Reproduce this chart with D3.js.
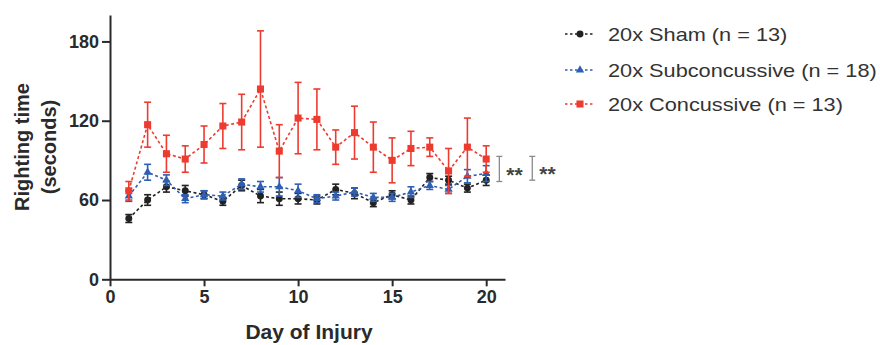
<!DOCTYPE html>
<html><head><meta charset="utf-8">
<script src="https://cdn.jsdelivr.net/npm/d3@7"></script>
<style>body{margin:0;background:#fff;} svg{display:block;}</style>
</head><body>
<svg id="c" width="880" height="345"></svg>
<script>
const days = [1,2,3,4,5,6,7,8,9,10,11,12,13,14,15,16,17,18,19,20];
const shamMean = [46,60,70,67,64,59,71,63,61,61,60,68,65,58,64,60,77,75,69,75];
const shamErr  = [3,4,4,4,3,3,4,5,5,4,3,4,4,3,3,3,3,3,3,4];
const subMean  = [63,81,75,61,64,63,72,70,70,67,61,63,66,62,62,66,71,68,78,80];
const subErr   = [4,6,4,3,3,3,4,4,7,5,3,3,3,3,3,4,3,3,5,6];
const conMean  = [67,117,95,91,102,116,119,144,97,122,121,100,111,100,90,99,100,82,100,91];
const conErr   = [7,17,14,10,14,17,21,44,20,27,23,13,20,19,17,13,7,17,22,10];
const xTicks = [0,5,10,15,20];
const yTicks = [0,60,120,180];
const seriesNames = ["20x Sham (n = 13)","20x Subconcussive (n = 18)","20x Concussive (n = 13)"];
const seriesColors = ["#222222","#2f5fb3","#ee3b2f"];
const sigBrackets = [{day:20.7, lo:74, hi:93, label:"**"},{day:22.45, lo:75, hi:93, label:"**"}];

const svg = d3.select("#c");
const x = d3.scaleLinear().domain([0,21]).range([110,505]);
const y = d3.scaleLinear().domain([0,200]).range([279.3,15]);
const font = "'Liberation Sans', Arial, Helvetica, sans-serif";
const axisColor = "#2a2a2a";

// axes
const gx = svg.append("g").attr("transform",`translate(0,${y(0)})`)
  .call(d3.axisBottom(x).tickValues(xTicks).tickSize(7).tickPadding(4).tickSizeOuter(0));
const gy = svg.append("g").attr("transform",`translate(${x(0)},0)`)
  .call(d3.axisLeft(y).tickValues(yTicks).tickSize(8).tickPadding(3).tickSizeOuter(0));
[gx,gy].forEach(g=>{
  g.select(".domain").attr("stroke",axisColor).attr("stroke-width",2);
  g.selectAll(".tick line").attr("stroke",axisColor).attr("stroke-width",2);
  g.selectAll(".tick text").attr("fill","#2a2a2a").style("font-family",font)
    .style("font-size","18px").style("font-weight","bold");
});

// axis titles
svg.append("text").attr("x",309).attr("y",339).attr("text-anchor","middle")
  .style("font-family",font).style("font-size","21px").style("font-weight","bold").attr("fill","#2a2a2a")
  .text("Day of Injury");
const yt = svg.append("text").attr("transform","translate(29,147) rotate(-90)").attr("text-anchor","middle")
  .style("font-family",font).style("font-size","20px").style("font-weight","bold").attr("fill","#2a2a2a");
yt.append("tspan").attr("x",0).attr("y",0).text("Righting time");
yt.append("tspan").attr("x",0).attr("y",27).text("(seconds)");

const series = [
  {mean:shamMean, err:shamErr, color:seriesColors[0], shape:"circle"},
  {mean:subMean, err:subErr, color:seriesColors[1], shape:"triangle"},
  {mean:conMean, err:conErr, color:seriesColors[2], shape:"square"}
];
const symFor = s => s==="circle" ? d3.symbol(d3.symbolCircle,38) :
                    s==="triangle" ? d3.symbol(d3.symbolTriangle,30) : d3.symbol(d3.symbolSquare,50);

series.forEach(s=>{
  const g = svg.append("g");
  const data = days.map((d,i)=>({d, m:s.mean[i], e:s.err[i]}));
  g.append("path").datum(data)
    .attr("d", d3.line().x(p=>x(p.d)).y(p=>y(p.m)))
    .attr("fill","none").attr("stroke",s.color).attr("stroke-width",1.6).attr("stroke-dasharray","3,2.5");
  const eb = g.selectAll(".eb").data(data).enter().append("g").attr("stroke",s.color).attr("stroke-width",1.6);
  eb.append("line").attr("x1",p=>x(p.d)).attr("x2",p=>x(p.d)).attr("y1",p=>y(p.m-p.e)).attr("y2",p=>y(p.m+p.e));
  eb.append("line").attr("x1",p=>x(p.d)-3.5).attr("x2",p=>x(p.d)+3.5).attr("y1",p=>y(p.m+p.e)).attr("y2",p=>y(p.m+p.e));
  eb.append("line").attr("x1",p=>x(p.d)-3.5).attr("x2",p=>x(p.d)+3.5).attr("y1",p=>y(p.m-p.e)).attr("y2",p=>y(p.m-p.e));
  g.selectAll(".pt").data(data).enter().append("path")
    .attr("transform",p=>`translate(${x(p.d)},${y(p.m)})`)
    .attr("d",symFor(s.shape)()).attr("fill",s.color);
});

// significance brackets
sigBrackets.forEach(b=>{
  const g = svg.append("g").attr("stroke","#8a8a8a").attr("stroke-width",1.3);
  const bx = x(b.day);
  g.append("line").attr("x1",bx).attr("x2",bx).attr("y1",y(b.lo)).attr("y2",y(b.hi));
  g.append("line").attr("x1",bx-3).attr("x2",bx+3).attr("y1",y(b.lo)).attr("y2",y(b.lo));
  g.append("line").attr("x1",bx-3).attr("x2",bx+3).attr("y1",y(b.hi)).attr("y2",y(b.hi));
  svg.append("text").attr("x",bx+7).attr("y",y((b.lo+b.hi)/2)+13)
    .style("font-family",font).style("font-size","21px").style("font-weight","bold").attr("fill","#444")
    .text(b.label);
});

// legend
const legY = [34,70,104];
seriesNames.forEach((name,i)=>{
  const s = series[i];
  const g = svg.append("g").attr("transform",`translate(0,${legY[i]})`);
  g.append("line").attr("x1",565).attr("x2",595).attr("y1",0).attr("y2",0)
    .attr("stroke",s.color).attr("stroke-width",1.4).attr("stroke-dasharray","2.5,2.5");
  g.append("path").attr("transform","translate(580,0)").attr("d",symFor(s.shape)()).attr("fill",s.color);
  g.append("text").attr("transform","translate(608,6.5) scale(1.175,1)").style("font-family",font).style("font-size","18.5px")
    .attr("fill","#333").text(name);
});
</script>
</body></html>
